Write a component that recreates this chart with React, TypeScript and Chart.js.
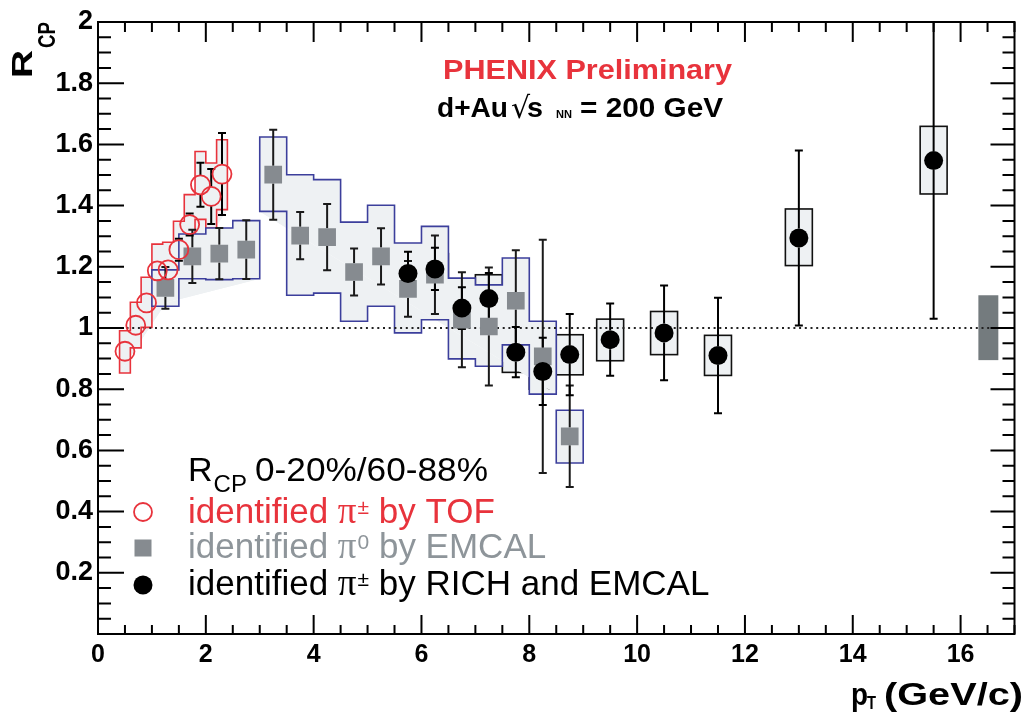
import React, { useEffect, useRef } from "react";
import { Chart, registerables } from "chart.js";

Chart.register(...registerables);

const FONT = "'Liberation Sans', Arial, Helvetica, sans-serif";
const RED = "#e8333c";
const BLUE = "#3c3f9c";
const GRAY = "#868b90";
const GRAY_TEXT = "#8e959a";
const FILL = "#eef1f3";
const NORM = "#747b7e";

// ---- identified pi+- by TOF (open red circles) ----
const tofPt = [0.5, 0.7, 0.9, 1.1, 1.3, 1.5, 1.7, 1.9, 2.1, 2.3];
const tofR = [0.924, 1.009, 1.082, 1.187, 1.19, 1.256, 1.338, 1.468, 1.43, 1.503];
const tofErr = [0.012, 0.012, 0.014, 0.018, 0.025, 0.036, 0.036, 0.072, 0.09, 0.134];
const tofSysLo = [0.853, 0.935, 1.002, 1.096, 1.096, 1.163, 1.238, 1.355, 1.327, 1.387];
const tofSysHi = [0.991, 1.084, 1.166, 1.274, 1.28, 1.349, 1.436, 1.577, 1.539, 1.615];

// ---- identified pi0 by EMCAL (gray squares) ----
const emcPt = [1.25, 1.75, 2.25, 2.75, 3.25, 3.75, 4.25, 4.75, 5.25, 5.75, 6.25, 6.75, 7.25, 7.75, 8.25, 8.75];
const emcR = [1.131, 1.234, 1.243, 1.256, 1.501, 1.302, 1.297, 1.183, 1.234, 1.128, 1.174, 1.027, 1.005, 1.089, 0.907, 0.646];
const emcErr = [0.068, 0.087, 0.084, 0.096, 0.147, 0.077, 0.108, 0.077, 0.092, 0.091, 0.128, 0.155, 0.193, 0.165, 0.381, 0.166];
const emcSysLo = [1.071, 1.161, 1.158, 1.161, 1.381, 1.107, 1.114, 1.022, 1.071, 0.984, 1.027, 0.899, 0.875, 0.945, 0.784, 0.559];
const emcSysHi = [1.19, 1.307, 1.327, 1.351, 1.624, 1.501, 1.485, 1.346, 1.401, 1.278, 1.332, 1.163, 1.141, 1.229, 1.022, 0.731];

// ---- identified pi+- by RICH and EMCAL (black circles) ----
const richPt = [5.75, 6.25, 6.75, 7.25, 7.75, 8.25, 8.75, 9.5, 10.5, 11.5, 13, 15.5];
const richR = [1.178, 1.193, 1.065, 1.096, 0.921, 0.858, 0.913, 0.962, 0.984, 0.91, 1.294, 1.547];
const richErr = [0.071, 0.069, 0.068, 0.084, 0.082, 0.11, 0.133, 0.118, 0.155, 0.189, 0.286, 0.517];
const richSysLo = [1.128, 1.143, 1.005, 1.018, 0.855, 0.8, 0.847, 0.893, 0.913, 0.845, 1.204, 1.438];
const richSysHi = [1.228, 1.243, 1.125, 1.174, 0.987, 0.916, 0.978, 1.029, 1.054, 0.976, 1.389, 1.659];

// normalization uncertainty box
const normBoxX = [16.33, 16.7];
const normBoxY = [0.895, 1.107];

const labels = [
  "identified π± by TOF",
  "identified π0 by EMCAL",
  "identified π± by RICH and EMCAL",
];
const legendHeader = ["R", "CP", "0-20%/60-88%"];
const xTitle = ["p", "T", "(GeV/c)"];
const yTitle = ["R", "CP"];
const banner = "PHENIX Preliminary";

const CIRCLE_R = 9.5;
const SQUARE_R = 12.5; // chart.js 'rect' half-side = r * SQRT1_2

function drawText(ctx: CanvasRenderingContext2D, text: string, x: number, y: number, font: string, color: string, width?: number) {
  ctx.font = font;
  ctx.fillStyle = color;
  ctx.textAlign = "left";
  ctx.textBaseline = "alphabetic";
  const w = ctx.measureText(text).width;
  if (width) {
    ctx.save();
    ctx.translate(x, y);
    ctx.scale(width / w, 1);
    ctx.fillText(text, 0, 0);
    ctx.restore();
    return x + width;
  }
  ctx.fillText(text, x, y);
  return x + w;
}

function drawPiLabel(ctx: CanvasRenderingContext2D, label: string, x: number, baseline: number, size: number, color: string) {
  const idx = label.indexOf("π");
  const main = `${size}px ${FONT}`;
  let cx = drawText(ctx, label.slice(0, idx), x, baseline, main, color);
  cx = drawText(ctx, "π", cx, baseline, `${size + 2}px 'Liberation Serif', serif`, color);
  cx = drawText(ctx, label[idx + 1], cx + 1, baseline - 9, `21px ${FONT}`, color);
  drawText(ctx, label.slice(idx + 2), cx, baseline, main, color);
}

function drawBands(ctx: CanvasRenderingContext2D, xs: any, ys: any, pts: number[], lo: number[], hi: number[], hw: number, color: string) {
  const groups: number[][] = [];
  let cur = [0];
  for (let i = 1; i < pts.length; i++) {
    const touching = Math.abs(pts[i] - hw - (pts[i - 1] + hw)) < 1e-6;
    const overlap = lo[i] <= hi[i - 1] && hi[i] >= lo[i - 1];
    if (touching && overlap) cur.push(i);
    else {
      groups.push(cur);
      cur = [i];
    }
  }
  groups.push(cur);
  const P = (vx: number, vy: number): [number, number] => [xs.getPixelForValue(vx), ys.getPixelForValue(vy)];
  for (const g of groups) {
    const upper: [number, number][] = [];
    const lower: [number, number][] = [];
    for (const i of g) {
      upper.push(P(pts[i] - hw, hi[i]), P(pts[i] + hw, hi[i]));
      lower.push(P(pts[i] - hw, lo[i]), P(pts[i] + hw, lo[i]));
    }
    const first = lower[0];
    const last = lower[lower.length - 1];
    ctx.fillStyle = FILL;
    ctx.beginPath();
    ctx.moveTo(first[0], first[1]);
    upper.forEach((p) => ctx.lineTo(p[0], p[1]));
    ctx.lineTo(last[0], last[1]);
    ctx.closePath();
    ctx.fill();
    ctx.beginPath();
    lower.forEach((p, k) => (k === 0 ? ctx.moveTo(p[0], p[1]) : ctx.lineTo(p[0], p[1])));
    ctx.closePath();
    ctx.fill();
    ctx.beginPath();
    ctx.moveTo(first[0], first[1]);
    upper.forEach((p) => ctx.lineTo(p[0], p[1]));
    for (let k = lower.length - 1; k >= 0; k--) ctx.lineTo(lower[k][0], lower[k][1]);
    ctx.closePath();
    ctx.strokeStyle = color;
    ctx.lineWidth = 1.6;
    ctx.stroke();
  }
}

// ROOT-style error bars: nothing drawn inside the marker
function drawErrors(ctx: CanvasRenderingContext2D, xs: any, ys: any, pts: number[], vals: number[], err: number[], color: string, gap: number) {
  ctx.strokeStyle = color;
  ctx.lineWidth = 2;
  pts.forEach((p, i) => {
    const px = xs.getPixelForValue(p);
    const pc = ys.getPixelForValue(vals[i]);
    const y1 = ys.getPixelForValue(vals[i] - err[i]);
    const y2 = ys.getPixelForValue(vals[i] + err[i]);
    if (y1 - pc <= gap) return;
    ctx.beginPath();
    ctx.moveTo(px, pc + gap);
    ctx.lineTo(px, y1);
    ctx.moveTo(px, pc - gap);
    ctx.lineTo(px, y2);
    ctx.moveTo(px - 4, y1);
    ctx.lineTo(px + 4, y1);
    ctx.moveTo(px - 4, y2);
    ctx.lineTo(px + 4, y2);
    ctx.stroke();
  });
}

const decorPlugin = {
  id: "rcpDecor",
  beforeDatasetsDraw(chart: any) {
    const { ctx, chartArea: a, scales } = chart;
    const xs = scales.x;
    const ys = scales.y;
    ctx.save();
    ctx.beginPath();
    ctx.rect(a.left, a.top, a.right - a.left, a.bottom - a.top);
    ctx.clip();

    richPt.forEach((p, i) => {
      const x1 = xs.getPixelForValue(p - 0.25);
      const x2 = xs.getPixelForValue(p + 0.25);
      const y1 = ys.getPixelForValue(richSysHi[i]);
      const y2 = ys.getPixelForValue(richSysLo[i]);
      ctx.fillStyle = FILL;
      ctx.fillRect(x1, y1, x2 - x1, y2 - y1);
      ctx.strokeStyle = "#111";
      ctx.lineWidth = 1.6;
      ctx.strokeRect(x1, y1, x2 - x1, y2 - y1);
    });

    drawBands(ctx, xs, ys, tofPt, tofSysLo, tofSysHi, 0.1, RED);
    drawBands(ctx, xs, ys, emcPt, emcSysLo, emcSysHi, 0.25, BLUE);

    {
      const x1 = xs.getPixelForValue(normBoxX[0]);
      const x2 = xs.getPixelForValue(normBoxX[1]);
      const y1 = ys.getPixelForValue(normBoxY[1]);
      const y2 = ys.getPixelForValue(normBoxY[0]);
      ctx.fillStyle = NORM;
      ctx.fillRect(x1, y1, x2 - x1, y2 - y1);
    }

    ctx.save();
    ctx.setLineDash([2, 3.7]);
    ctx.strokeStyle = "#222";
    ctx.lineWidth = 2;
    ctx.beginPath();
    const y1 = ys.getPixelForValue(1);
    ctx.moveTo(xs.getPixelForValue(0), y1);
    ctx.lineTo(xs.getPixelForValue(17), y1);
    ctx.stroke();
    ctx.restore();

    drawErrors(ctx, xs, ys, emcPt, emcR, emcErr, "#1a1a1a", SQUARE_R * Math.SQRT1_2);
    drawErrors(ctx, xs, ys, richPt, richR, richErr, "#000", CIRCLE_R);
    drawErrors(ctx, xs, ys, tofPt, tofR, tofErr, "#000", CIRCLE_R);
    ctx.restore();
  },
  afterDraw(chart: any) {
    const { ctx, chartArea: a, scales } = chart;
    const xs = scales.x;
    const ys = scales.y;
    ctx.save();
    ctx.strokeStyle = "#000";
    ctx.lineWidth = 2;
    ctx.strokeRect(a.left, a.top, a.right - a.left, a.bottom - a.top);
    ctx.beginPath();
    for (let k = 0; k <= 34; k++) {
      const px = xs.getPixelForValue(k * 0.5);
      const major = k % 4 === 0;
      ctx.moveTo(px, a.bottom);
      ctx.lineTo(px, a.bottom - (major ? 19 : 9));
      ctx.moveTo(px, a.top);
      ctx.lineTo(px, a.top + (major ? 20 : 10));
    }
    for (let k = 0; k <= 40; k++) {
      const py = ys.getPixelForValue(k * 0.05);
      const major = k % 4 === 0;
      ctx.moveTo(a.left, py);
      ctx.lineTo(a.left + (major ? 26 : 13), py);
      ctx.moveTo(a.right, py);
      ctx.lineTo(a.right - (major ? 24 : 12), py);
    }
    ctx.stroke();

    // axis titles
    drawText(ctx, xTitle[0], 851, 705, `bold 31px ${FONT}`, "#000", 17);
    drawText(ctx, xTitle[1], 867, 709, `bold 18px ${FONT}`, "#000", 9);
    drawText(ctx, xTitle[2], 884, 705, `bold 31px ${FONT}`, "#000", 139);
    ctx.save();
    ctx.translate(32, 78);
    ctx.rotate(-Math.PI / 2);
    drawText(ctx, yTitle[0], 0, 0, `bold 30px ${FONT}`, "#000", 28);
    drawText(ctx, yTitle[1], 30, 23, `bold 23px ${FONT}`, "#000", 26);
    ctx.restore();

    // banner
    drawText(ctx, banner, 443, 79, `bold 27px ${FONT}`, RED, 289);
    drawText(ctx, "d+Au", 437, 117, `bold 27px ${FONT}`, "#000", 71);
    drawText(ctx, "√", 511, 118, `30px 'DejaVu Sans', sans-serif`, "#000");
    drawText(ctx, "s", 527, 117, `bold 27px ${FONT}`, "#000", 16);
    drawText(ctx, "NN", 556, 118, `bold 11px ${FONT}`, "#000", 16);
    drawText(ctx, "= 200 GeV", 580, 117, `bold 27px ${FONT}`, "#000", 143);

    // legend
    let cx = drawText(ctx, legendHeader[0], 188, 481, `34px ${FONT}`, "#000");
    drawText(ctx, legendHeader[1], cx + 1, 492, `24px ${FONT}`, "#000");
    drawText(ctx, legendHeader[2], 255, 481, `34px ${FONT}`, "#000", 233);

    const mx = 143;
    ctx.beginPath();
    ctx.arc(mx, 512, 9, 0, Math.PI * 2);
    ctx.strokeStyle = RED;
    ctx.lineWidth = 1.8;
    ctx.stroke();
    drawPiLabel(ctx, chart.data.datasets[0].label, 188, 523, 35, RED);
    ctx.fillStyle = GRAY;
    ctx.fillRect(mx - 8.5, 548 - 8.5, 17, 17);
    drawPiLabel(ctx, chart.data.datasets[1].label, 188, 558, 35, GRAY_TEXT);
    ctx.beginPath();
    ctx.arc(mx, 585, 9.5, 0, Math.PI * 2);
    ctx.fillStyle = "#000";
    ctx.fill();
    drawPiLabel(ctx, chart.data.datasets[2].label, 188, 595, 35, "#000");
    ctx.restore();
  },
};

export default function App() {
  const ref = useRef<HTMLCanvasElement | null>(null);
  useEffect(() => {
    if (!ref.current) return;
    const chart = new Chart(ref.current, {
      type: "scatter",
      data: {
        datasets: [
          {
            label: labels[0],
            data: tofPt.map((x, i) => ({ x, y: tofR[i] })),
            pointStyle: "circle",
            pointRadius: CIRCLE_R,
            pointBorderWidth: 1.8,
            borderColor: RED,
            backgroundColor: "rgba(0,0,0,0)",
            order: 1,
          },
          {
            label: labels[1],
            data: emcPt.map((x, i) => ({ x, y: emcR[i] })),
            pointStyle: "rect",
            pointRadius: SQUARE_R,
            pointBorderWidth: 0,
            borderColor: GRAY,
            backgroundColor: GRAY,
            order: 3,
          },
          {
            label: labels[2],
            data: richPt.map((x, i) => ({ x, y: richR[i] })),
            pointStyle: "circle",
            pointRadius: CIRCLE_R,
            pointBorderWidth: 0,
            borderColor: "#000",
            backgroundColor: "#000",
            order: 2,
          },
        ],
      },
      options: {
        responsive: false,
        animation: false,
        events: [],
        layout: { padding: { top: 22, right: 4, left: 0, bottom: 0 } },
        plugins: { legend: { display: false }, tooltip: { enabled: false } },
        scales: {
          x: {
            type: "linear",
            position: "bottom",
            min: 0,
            max: 17,
            grid: { display: false, drawTicks: false },
            border: { display: false },
            ticks: {
              stepSize: 2,
              autoSkip: false,
              maxRotation: 0,
              padding: 6,
              color: "#000",
              font: { family: FONT, size: 25, weight: "bold" },
              callback: (v: any) => (Math.abs(v % 2) < 1e-9 ? String(v) : ""),
            },
            afterFit: (s: any) => {
              s.height = 83;
            },
          },
          y: {
            type: "linear",
            min: 0,
            max: 2,
            grid: { display: false, drawTicks: false },
            border: { display: false },
            ticks: {
              stepSize: 0.2,
              autoSkip: false,
              padding: 5,
              color: "#000",
              font: { family: FONT, size: 27, weight: "bold" },
              callback: (v: any) => (Math.abs(v) < 1e-9 ? "" : String(Number(Number(v).toFixed(1)))),
            },
            afterFit: (s: any) => {
              s.width = 98;
            },
          },
        },
      },
      plugins: [decorPlugin],
    } as any);
    return () => chart.destroy();
  }, []);
  return (
    <div style={{ position: "absolute", left: 0, top: 0, width: 1027, height: 717, background: "#fff" }}>
      <canvas ref={ref} width={1027} height={717} style={{ display: "block" }} />
    </div>
  );
}
